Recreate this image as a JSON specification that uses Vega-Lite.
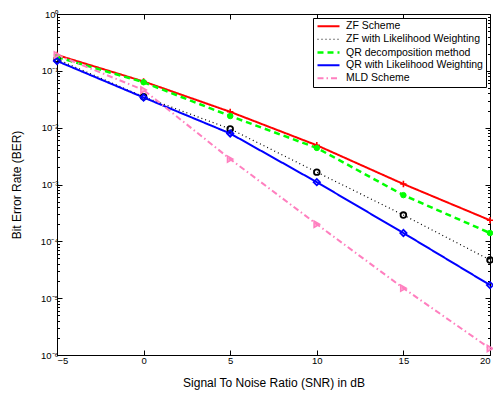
{
  "$schema": "https://vega.github.io/schema/vega-lite/v6.json",
  "width": 433,
  "height": 341,
  "autosize": {"type": "none"},
  "padding": {"left": 57, "top": 14, "right": 3, "bottom": 39},
  "background": "white",
  "config": {
    "font": "Liberation Sans",
    "view": {"stroke": "black", "strokeWidth": 1},
    "axis": {"domainColor": "black", "tickColor": "black", "labelColor": "black", "titleColor": "black", "grid": false, "labelFontSize": 9.5, "titleFontSize": 12, "titleFontWeight": "normal", "labelFont": "Liberation Sans", "titleFont": "Liberation Sans"}
  },
  "data": {"values": [
    {"series": "ZF Scheme", "snr": -5, "ber": 0.19},
    {"series": "ZF Scheme", "snr": 0, "ber": 0.065},
    {"series": "ZF Scheme", "snr": 5, "ber": 0.019},
    {"series": "ZF Scheme", "snr": 10, "ber": 0.0049},
    {"series": "ZF Scheme", "snr": 15, "ber": 0.00102},
    {"series": "ZF Scheme", "snr": 20, "ber": 0.000235},
    {"series": "ZF with Likelihood Weighting", "snr": -5, "ber": 0.16},
    {"series": "ZF with Likelihood Weighting", "snr": 0, "ber": 0.035},
    {"series": "ZF with Likelihood Weighting", "snr": 5, "ber": 0.0095},
    {"series": "ZF with Likelihood Weighting", "snr": 10, "ber": 0.00165},
    {"series": "ZF with Likelihood Weighting", "snr": 15, "ber": 0.00029},
    {"series": "ZF with Likelihood Weighting", "snr": 20, "ber": 0.000047},
    {"series": "QR decomposition method", "snr": -5, "ber": 0.175},
    {"series": "QR decomposition method", "snr": 0, "ber": 0.063},
    {"series": "QR decomposition method", "snr": 5, "ber": 0.016},
    {"series": "QR decomposition method", "snr": 10, "ber": 0.0044},
    {"series": "QR decomposition method", "snr": 15, "ber": 0.00065},
    {"series": "QR decomposition method", "snr": 20, "ber": 0.00014},
    {"series": "QR with Likelihood Weighting", "snr": -5, "ber": 0.149},
    {"series": "QR with Likelihood Weighting", "snr": 0, "ber": 0.034},
    {"series": "QR with Likelihood Weighting", "snr": 5, "ber": 0.0079},
    {"series": "QR with Likelihood Weighting", "snr": 10, "ber": 0.0011},
    {"series": "QR with Likelihood Weighting", "snr": 15, "ber": 0.00014},
    {"series": "QR with Likelihood Weighting", "snr": 20, "ber": 0.000017},
    {"series": "MLD Scheme", "snr": -5, "ber": 0.19},
    {"series": "MLD Scheme", "snr": 0, "ber": 0.046},
    {"series": "MLD Scheme", "snr": 5, "ber": 0.0028},
    {"series": "MLD Scheme", "snr": 10, "ber": 0.0002},
    {"series": "MLD Scheme", "snr": 15, "ber": 0.000015},
    {"series": "MLD Scheme", "snr": 20, "ber": 0.0000013}
  ]},
  "layer": [
    {
      "mark": {"type": "line", "clip": true},
      "encoding": {
        "x": {"field": "snr", "type": "quantitative", "scale": {"domain": [-5, 20], "nice": false, "zero": false},
          "axis": {"orient": "bottom", "values": [-5, 0, 5, 10, 15, 20], "tickSize": -5, "labelPadding": 5, "title": "Signal To Noise Ratio (SNR) in dB", "titlePadding": 13}},
        "y": {"field": "ber", "type": "quantitative", "scale": {"type": "log", "domain": [0.000001, 1], "nice": false},
          "axis": {"orient": "left", "title": "Bit Error Rate (BER)", "titlePadding": 17, "labelPadding": 4,
            "values": [0.000001,0.000002,0.000003,0.000004,0.000005,0.000006,0.000007,0.000008,0.000009,0.00001,0.00002,0.00003,0.00004,0.00005,0.00006,0.00007,0.00008,0.00009,0.0001,0.0002,0.0003,0.0004,0.0005,0.0006,0.0007,0.0008,0.0009,0.001,0.002,0.003,0.004,0.005,0.006,0.007,0.008,0.009,0.01,0.02,0.03,0.04,0.05,0.06,0.07,0.08,0.09,0.1,0.2,0.3,0.4,0.5,0.6,0.7,0.8,0.9,1],
            "tickSize": {"condition": {"test": "abs(log(datum.value)/LN10 - round(log(datum.value)/LN10)) < 0.001", "value": -5}, "value": -2.5},
            "labelExpr": "abs(log(datum.value)/LN10 - round(log(datum.value)/LN10)) < 0.001 ? '10' + ['⁻⁶','⁻⁵','⁻⁴','⁻³','⁻²','⁻¹','⁰'][round(log(datum.value)/LN10)+6] : ''"}},
        "color": {"field": "series", "type": "nominal",
          "scale": {"domain": ["ZF Scheme", "ZF with Likelihood Weighting", "QR decomposition method", "QR with Likelihood Weighting", "MLD Scheme"],
            "range": ["#ff0000", "#000000", "#00ff00", "#0000ff", "#ff7fbf"]},
          "legend": {"title": null, "orient": "top-right", "offset": 4, "symbolType": "M-1,0H4.5", "symbolSize": 64, "symbolStrokeWidth": 2, "labelOffset": 19, "labelFontSize": 10.5, "labelFont": "Liberation Sans", "labelColor": "black", "strokeColor": "black", "fillColor": "white", "padding": 3, "rowPadding": 2, "labelLimit": 300}},
        "strokeDash": {"field": "series", "type": "nominal",
          "scale": {"domain": ["ZF Scheme", "ZF with Likelihood Weighting", "QR decomposition method", "QR with Likelihood Weighting", "MLD Scheme"],
            "range": [[1, 0], [1, 3], [6, 4], [1, 0], [6, 3, 1.5, 3]]}},
        "strokeWidth": {"field": "series", "type": "nominal", "legend": null,
          "scale": {"type": "ordinal", "domain": ["ZF Scheme", "ZF with Likelihood Weighting", "QR decomposition method", "QR with Likelihood Weighting", "MLD Scheme"],
            "range": [2, 1.2, 2.5, 2, 2]}}
      }
    },
    {
      "transform": [{"filter": "datum.series === 'ZF Scheme'"}],
      "mark": {"type": "point", "shape": "M-1,0H1M0,-1V1", "stroke": "#ff0000", "fill": "transparent", "strokeWidth": 1.6, "size": 40, "opacity": 1},
      "encoding": {
        "x": {"field": "snr", "type": "quantitative", "axis": {"orient": "top", "values": [-5, 0, 5, 10, 15, 20], "tickSize": -5, "labels": false, "title": null, "domain": false}},
        "y": {"field": "ber", "type": "quantitative",
          "axis": {"orient": "right", "labels": false, "title": null, "domain": false,
            "values": [0.000001,0.000002,0.000003,0.000004,0.000005,0.000006,0.000007,0.000008,0.000009,0.00001,0.00002,0.00003,0.00004,0.00005,0.00006,0.00007,0.00008,0.00009,0.0001,0.0002,0.0003,0.0004,0.0005,0.0006,0.0007,0.0008,0.0009,0.001,0.002,0.003,0.004,0.005,0.006,0.007,0.008,0.009,0.01,0.02,0.03,0.04,0.05,0.06,0.07,0.08,0.09,0.1,0.2,0.3,0.4,0.5,0.6,0.7,0.8,0.9,1],
            "tickSize": {"condition": {"test": "abs(log(datum.value)/LN10 - round(log(datum.value)/LN10)) < 0.001", "value": -5}, "value": -2.5}}}
      }
    },
    {
      "transform": [{"filter": "datum.series === 'ZF with Likelihood Weighting'"}],
      "mark": {"type": "point", "shape": "circle", "stroke": "#000000", "fill": "transparent", "strokeWidth": 1.8, "size": 32, "opacity": 1},
      "encoding": {
        "x": {"field": "snr", "type": "quantitative", "axis": null},
        "y": {"field": "ber", "type": "quantitative", "axis": null}
      }
    },
    {
      "transform": [{"filter": "datum.series === 'QR decomposition method'"}],
      "mark": {"type": "point", "shape": "circle", "stroke": "#00ff00", "fill": "#00ff00", "strokeWidth": 1, "size": 30, "opacity": 1},
      "encoding": {
        "x": {"field": "snr", "type": "quantitative", "axis": null},
        "y": {"field": "ber", "type": "quantitative", "axis": null}
      }
    },
    {
      "transform": [{"filter": "datum.series === 'QR with Likelihood Weighting'"}],
      "mark": {"type": "point", "shape": "diamond", "stroke": "#0000ff", "fill": "transparent", "strokeWidth": 1.8, "size": 40, "opacity": 1},
      "encoding": {
        "x": {"field": "snr", "type": "quantitative", "axis": null},
        "y": {"field": "ber", "type": "quantitative", "axis": null}
      }
    },
    {
      "transform": [{"filter": "datum.series === 'MLD Scheme'"}],
      "mark": {"type": "point", "shape": "triangle-right", "stroke": "#ff7fbf", "fill": "#ff7fbf", "fillOpacity": 0.6, "strokeWidth": 1.5, "size": 40, "opacity": 1},
      "encoding": {
        "x": {"field": "snr", "type": "quantitative", "axis": null},
        "y": {"field": "ber", "type": "quantitative", "axis": null}
      }
    }
  ],
  "resolve": {"axis": {"x": "independent", "y": "independent"}}
}
